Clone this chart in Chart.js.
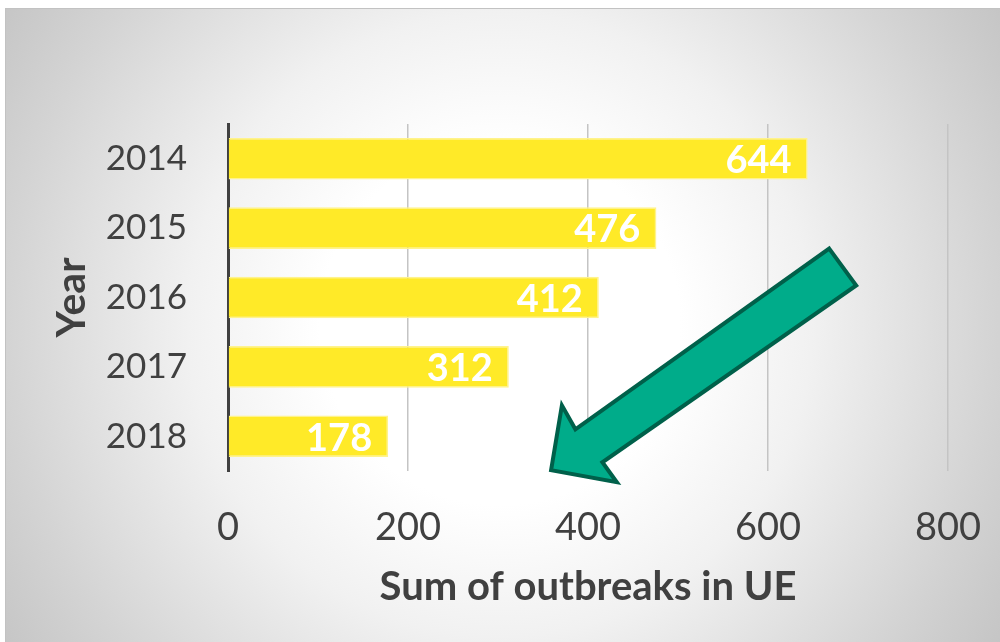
<!DOCTYPE html>
<html>
<head>
<meta charset="utf-8">
<script src="https://cdn.jsdelivr.net/npm/chart.js@4.4.1/dist/chart.umd.min.js"></script>
<style>
  html, body { margin: 0; padding: 0; background: #fff; }
  #wrap { width: 1000px; height: 642px; }
</style>
</head>
<body>
<div id="wrap"><canvas id="myChart" width="1000" height="642"></canvas></div>
<script>
// data
var years = ["2014", "2015", "2016", "2017", "2018"];
var outbreaks = [644, 476, 412, 312, 178];
var xTicks = [0, 200, 400, 600, 800];

// arrow outline, in data units: [x value, category index]
var arrowX = [668, 698, 416, 432, 359, 371, 386];
var arrowY = [1.295, 1.827, 4.374, 4.662, 4.489, 3.554, 3.899];

var textColor = '#404040';

var backdrop = {
    id: 'backdrop',
    beforeDraw: function (chart) {
        var c = chart.ctx;
        c.save();
        var g = c.createRadialGradient(500, 325, 0, 500, 325, 600);
        g.addColorStop(0, '#ffffff');
        g.addColorStop(0.3, '#ffffff');
        g.addColorStop(0.52, '#f1f1f1');
        g.addColorStop(0.82, '#d4d4d4');
        g.addColorStop(1, '#c4c4c4');
        c.fillStyle = '#ffffff';
        c.fillRect(0, 0, chart.width, chart.height);
        c.fillStyle = g;
        c.fillRect(5, 8, chart.width - 5, chart.height - 8);
        c.strokeStyle = '#c2c2c2';
        c.lineWidth = 1;
        c.strokeRect(5.5, 8.5, chart.width, chart.height);
        c.restore();
    }
};

var barLabels = {
    id: 'barLabels',
    afterDatasetsDraw: function (chart) {
        var c = chart.ctx;
        var meta = chart.getDatasetMeta(0);
        c.save();
        c.font = 'bold 38px Lato';
        c.fillStyle = '#ffffff';
        c.textAlign = 'right';
        c.textBaseline = 'middle';
        meta.data.forEach(function (bar, i) {
            c.fillText(outbreaks[i], bar.x - 16, bar.y + 2);
        });

        // green arrow
        var xs = chart.scales.x, ys = chart.scales.y;
        c.beginPath();
        for (var k = 0; k < arrowX.length; k++) {
            var px = xs.getPixelForValue(arrowX[k]);
            var py = ys.getPixelForValue(arrowY[k]);
            if (k === 0) c.moveTo(px, py); else c.lineTo(px, py);
        }
        c.closePath();
        c.fillStyle = '#00ac8a';
        c.fill();
        c.lineWidth = 4;
        c.lineJoin = 'miter';
        c.strokeStyle = '#00604a';
        c.stroke();
        c.restore();
    }
};

var ctx = document.getElementById('myChart').getContext('2d');
var chart = new Chart(ctx, {
    type: 'bar',
    data: {
        labels: years,
        datasets: [{
            label: 'Sum of outbreaks in UE',
            data: outbreaks,
            backgroundColor: 'rgb(255, 234, 40)',
            borderColor: 'rgb(255, 243, 140)',
            borderWidth: 1.5,
            categoryPercentage: 1,
            barPercentage: 0.6
        }]
    },
    options: {
        indexAxis: 'y',
        responsive: false,
        animation: false,
        layout: { padding: { left: 5, right: 52, top: 124, bottom: 0 } },
        plugins: {
            legend: { display: false },
            tooltip: { enabled: false }
        },
        scales: {
            x: {
                min: 0,
                max: 800,
                afterBuildTicks: function (scale) {
                    scale.ticks = xTicks.map(function (v) { return { value: v }; });
                },
                afterFit: function (scale) {
                    scale.height = 171;
                    scale.paddingLeft = 0;
                    scale.paddingRight = 0;
                },
                grid: {
                    color: function (c) { return c.tick && c.tick.value === 0 ? 'rgba(0,0,0,0)' : '#c4c4c4'; },
                    lineWidth: 1.5,
                    drawTicks: false
                },
                border: { display: false },
                ticks: {
                    color: textColor,
                    font: { family: 'Lato', size: 38 },
                    padding: 34
                },
                title: {
                    display: true,
                    text: 'Sum of outbreaks in UE',
                    color: textColor,
                    font: { family: 'Lato', size: 40, weight: 'bold' },
                    padding: { top: 0, bottom: 31 }
                }
            },
            y: {
                afterFit: function (scale) { scale.width = 223; },
                grid: { display: false, drawTicks: false },
                border: { display: true, color: '#404040', width: 3 },
                ticks: {
                    color: textColor,
                    font: { family: 'Lato', size: 35 },
                    padding: 41
                },
                title: {
                    display: true,
                    text: 'Year',
                    color: textColor,
                    font: { family: 'Lato', size: 41, weight: 'bold' },
                    padding: { top: 42, bottom: 0 }
                }
            }
        }
    },
    plugins: [backdrop, barLabels]
});
</script>
</body>
</html>
